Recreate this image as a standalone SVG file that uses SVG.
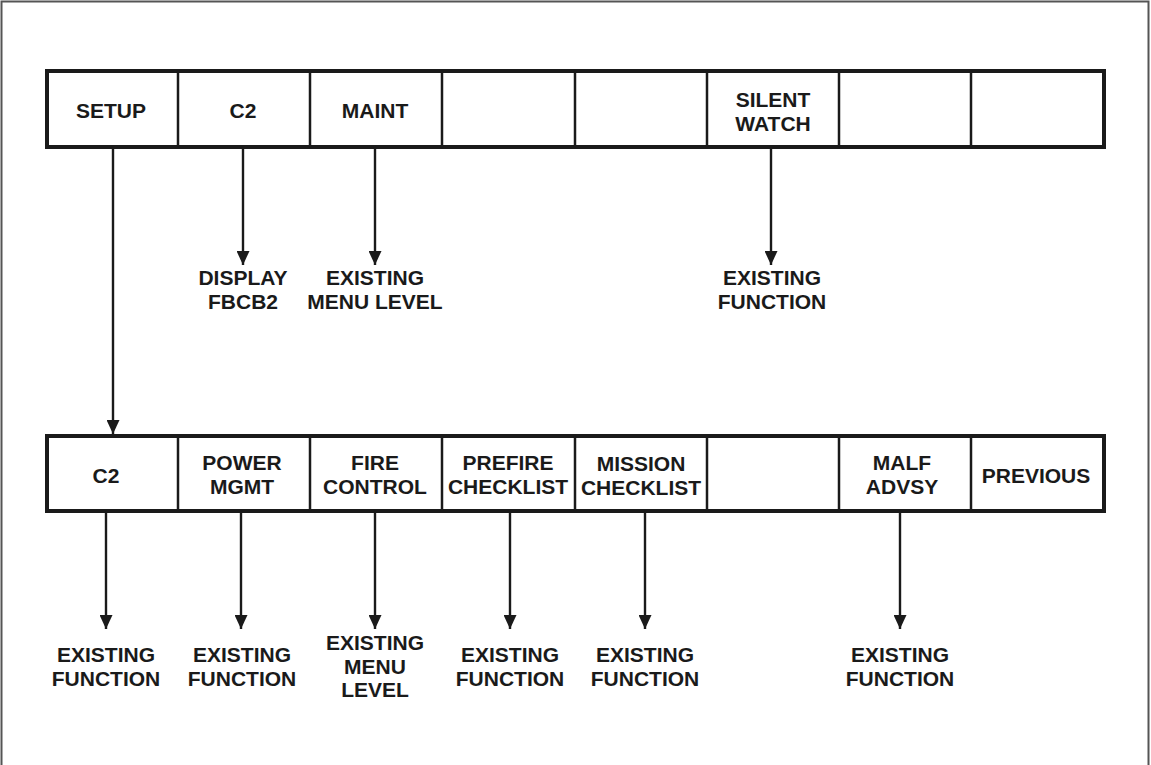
<svg xmlns="http://www.w3.org/2000/svg" width="1151" height="765" viewBox="0 0 1151 765">
<style>
text{font-family:"Liberation Sans",Arial,sans-serif;font-weight:bold;font-size:21px;fill:#1a1a1a;text-anchor:middle}
.bar{fill:#fff;stroke:#1a1a1a;stroke-width:4}
.div{stroke:#1a1a1a;stroke-width:2.5}
.conn{stroke:#1a1a1a;stroke-width:2.4;fill:none;marker-end:url(#ah)}
</style>
<defs>
<marker id="ah" markerUnits="userSpaceOnUse" markerWidth="14" markerHeight="13" refX="14" refY="6.5" orient="auto" viewBox="0 0 14 13">
<path d="M0,0 L14,6.5 L0,13 Z" fill="#1a1a1a"/>
</marker>
</defs>
<rect x="1.5" y="1.5" width="1147" height="775" fill="#fff" stroke="#555" stroke-width="2"/>
<g id="top-bar">
<rect class="bar" x="47" y="71" width="1057" height="76"/>
<line class="div" x1="178" y1="71" x2="178" y2="147"/>
<line class="div" x1="310" y1="71" x2="310" y2="147"/>
<line class="div" x1="442" y1="71" x2="442" y2="147"/>
<line class="div" x1="575" y1="71" x2="575" y2="147"/>
<line class="div" x1="707" y1="71" x2="707" y2="147"/>
<line class="div" x1="839" y1="71" x2="839" y2="147"/>
<line class="div" x1="971" y1="71" x2="971" y2="147"/>
</g>
<g id="t-setup"><text x="111" y="118">SETUP</text></g>
<g id="t-c2"><text x="243" y="118">C2</text></g>
<g id="t-maint"><text x="375" y="118">MAINT</text></g>
<g id="t-silent"><text x="773" y="107">SILENT</text><text x="773" y="131">WATCH</text></g>
<g id="bottom-bar">
<rect class="bar" x="47" y="436" width="1057" height="75"/>
<line class="div" x1="178" y1="436" x2="178" y2="511"/>
<line class="div" x1="310" y1="436" x2="310" y2="511"/>
<line class="div" x1="442" y1="436" x2="442" y2="511"/>
<line class="div" x1="575" y1="436" x2="575" y2="511"/>
<line class="div" x1="707" y1="436" x2="707" y2="511"/>
<line class="div" x1="839" y1="436" x2="839" y2="511"/>
<line class="div" x1="971" y1="436" x2="971" y2="511"/>
</g>
<g id="b-c2"><text x="106" y="483">C2</text></g>
<g id="b-power"><text x="242" y="470">POWER</text><text x="242" y="494">MGMT</text></g>
<g id="b-fire"><text x="375" y="470">FIRE</text><text x="375" y="494">CONTROL</text></g>
<g id="b-prefire"><text x="508" y="470">PREFIRE</text><text x="508" y="494">CHECKLIST</text></g>
<g id="b-mission"><text x="641" y="471">MISSION</text><text x="641" y="495">CHECKLIST</text></g>
<g id="b-malf"><text x="902" y="470">MALF</text><text x="902" y="494">ADVSY</text></g>
<g id="b-previous"><text x="1036" y="483">PREVIOUS</text></g>
<g id="connectors">
<line class="conn" x1="113" y1="149" x2="113" y2="434"/>
<line class="conn" x1="243" y1="149" x2="243" y2="265"/>
<line class="conn" x1="375" y1="149" x2="375" y2="265"/>
<line class="conn" x1="771" y1="149" x2="771" y2="265"/>
<line class="conn" x1="106" y1="513" x2="106" y2="629"/>
<line class="conn" x1="241" y1="513" x2="241" y2="629"/>
<line class="conn" x1="375" y1="513" x2="375" y2="629"/>
<line class="conn" x1="510" y1="513" x2="510" y2="629"/>
<line class="conn" x1="645" y1="513" x2="645" y2="629"/>
<line class="conn" x1="900" y1="513" x2="900" y2="629"/>
</g>
<g id="l-display"><text x="243" y="285">DISPLAY</text><text x="243" y="309">FBCB2</text></g>
<g id="l-maint"><text x="375" y="285">EXISTING</text><text x="375" y="309">MENU LEVEL</text></g>
<g id="l-silent"><text x="772" y="285">EXISTING</text><text x="772" y="309">FUNCTION</text></g>
<g id="l-1"><text x="106" y="662">EXISTING</text><text x="106" y="686">FUNCTION</text></g>
<g id="l-2"><text x="242" y="662">EXISTING</text><text x="242" y="686">FUNCTION</text></g>
<g id="l-3"><text x="375" y="650">EXISTING</text><text x="375" y="674">MENU</text><text x="375" y="697">LEVEL</text></g>
<g id="l-4"><text x="510" y="662">EXISTING</text><text x="510" y="686">FUNCTION</text></g>
<g id="l-5"><text x="645" y="662">EXISTING</text><text x="645" y="686">FUNCTION</text></g>
<g id="l-6"><text x="900" y="662">EXISTING</text><text x="900" y="686">FUNCTION</text></g>
</svg>
